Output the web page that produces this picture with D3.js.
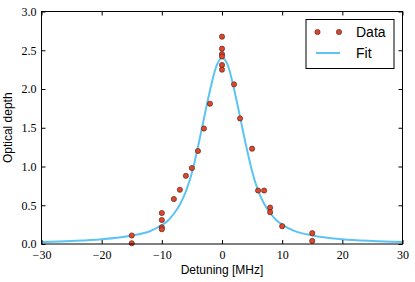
<!DOCTYPE html>
<html><head><meta charset="utf-8">
<script src="https://cdn.jsdelivr.net/npm/d3@7"></script>
<style>body{margin:0;background:#fff}svg{display:block}</style>
</head><body>
<script>
const dataX = [-15,-15,-10,-10,-10,-10,-8,-7,-6,-5,-4,-3,-2,0,0,0,0,0,0,2,3,5,6,7,8,8,10,15,15];
const dataY = [0.11,0.01,0.40,0.31,0.215,0.19,0.58,0.70,0.88,0.98,1.20,1.49,1.81,2.675,2.52,2.45,2.42,2.31,2.25,2.06,1.62,1.23,0.69,0.69,0.47,0.41,0.23,0.14,0.04];
const fitX = [-30,-25,-20,-15,-12,-10,-9,-8,-7,-6,-5,-4,-3,-2,-1,0,1,2,3,4,5,6,7,8,9,10,12,15,20,25,30];
const fitY = [0.027,0.039,0.061,0.11,0.165,0.245,0.30,0.39,0.51,0.68,0.92,1.25,1.62,1.98,2.28,2.40,2.30,2.00,1.64,1.27,0.94,0.69,0.52,0.40,0.31,0.25,0.17,0.11,0.061,0.039,0.027];
const xTicks = [-30,-20,-10,0,10,20,30];
const yTicks = [0.0,0.5,1.0,1.5,2.0,2.5,3.0];
const legendLabels = ["Data","Fit"];

(function(){
const W=415,H=282;
const m={l:41.5,r:402.5,t:11.5,b:244};
const svg=d3.select("body").append("svg").attr("width",W).attr("height",H);
const x=d3.scaleLinear().domain([-30,30]).range([m.l,m.r]);
const y=d3.scaleLinear().domain([0,3]).range([m.b,m.t]);
const tickFont='"Liberation Serif","DejaVu Serif",serif';
const fmtMinus=v=>String(v).replace("-","\u2212");

const line=d3.line().x((d,i)=>x(fitX[i])).y((d,i)=>y(fitY[i])).curve(d3.curveMonotoneX);
svg.append("clipPath").attr("id","c").append("rect").attr("x",m.l).attr("y",m.t).attr("width",m.r-m.l).attr("height",m.b-m.t);
svg.append("path").datum(fitY).attr("d",line).attr("fill","none").attr("stroke","#5BC4F5").attr("stroke-width",2).attr("clip-path","url(#c)");

svg.append("g").selectAll("circle").data(dataX).join("circle")
  .attr("cx",(d,i)=>x(dataX[i])).attr("cy",(d,i)=>y(dataY[i])).attr("r",2.6)
  .attr("fill","#E0462A").attr("stroke","#5a2a20").attr("stroke-width",0.7);

const gB=svg.append("g").attr("transform",`translate(0,${m.b})`)
  .call(d3.axisBottom(x).tickValues(xTicks).tickSize(-4).tickPadding(6).tickFormat(fmtMinus));
const gT=svg.append("g").attr("transform",`translate(0,${m.t})`)
  .call(d3.axisTop(x).tickValues(xTicks).tickSize(-4).tickFormat(""));
const gL=svg.append("g").attr("transform",`translate(${m.l},0)`)
  .call(d3.axisLeft(y).tickValues(yTicks).tickSize(-4).tickPadding(5).tickFormat(d3.format(".1f")));
const gR=svg.append("g").attr("transform",`translate(${m.r},0)`)
  .call(d3.axisRight(y).tickValues(yTicks).tickSize(-4).tickFormat(""));
[gB,gT,gL,gR].forEach(g=>{g.select(".domain").remove();g.selectAll("line").attr("stroke","#000");
  g.selectAll("text").attr("font-family",tickFont).attr("font-size",12).attr("fill","#000");});
svg.append("rect").attr("x",m.l).attr("y",m.t).attr("width",m.r-m.l).attr("height",m.b-m.t)
  .attr("fill","none").attr("stroke","#000").attr("stroke-width",1);

svg.append("text").attr("x",(m.l+m.r)/2).attr("y",274).attr("text-anchor","middle")
  .attr("font-family","Liberation Sans,Arial,sans-serif").attr("font-size",12).text("Detuning [MHz]");
svg.append("text").attr("transform",`translate(12,${(m.t+m.b)/2}) rotate(-90)`).attr("text-anchor","middle")
  .attr("font-family","Liberation Sans,Arial,sans-serif").attr("font-size",12).text("Optical depth");

const lg=svg.append("g");
lg.append("rect").attr("x",306).attr("y",19.5).attr("width",88).attr("height",49).attr("fill","#fff").attr("stroke","#000").attr("stroke-width",1);
[317.5,339].forEach(cx=>lg.append("circle").attr("cx",cx).attr("cy",32).attr("r",2.6).attr("fill","#E0462A").attr("stroke","#5a2a20").attr("stroke-width",0.7));
lg.append("line").attr("x1",316).attr("x2",340).attr("y1",53).attr("y2",53).attr("stroke","#5BC4F5").attr("stroke-width",2);
lg.selectAll("text.l").data(legendLabels).join("text").attr("class","l").attr("x",356).attr("y",(d,i)=>37+i*21)
  .attr("font-family","Liberation Sans,Arial,sans-serif").attr("font-size",14).text(d=>d);
})();
</script>
</body></html>
